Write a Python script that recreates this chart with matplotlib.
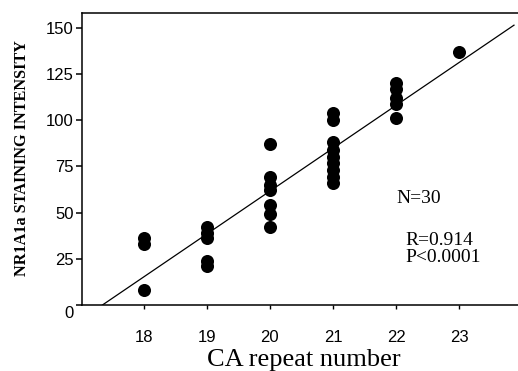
import numpy as np
import matplotlib
matplotlib.use("Agg")
import matplotlib.pyplot as plt
import matplotlib.transforms as mtransforms

# ---- data ----
repeat_18 = [36, 33, 8]
repeat_19 = [42, 39, 36, 24, 21]
repeat_20 = [87, 69, 65, 62, 54, 49, 42]
repeat_21 = [104, 100, 88, 84, 80, 77, 73, 69, 66]
repeat_22 = [120, 117, 112, 109, 101]
repeat_23 = [137]
groups = [18, 19, 20, 21, 22, 23]
group_values = [repeat_18, repeat_19, repeat_20, repeat_21, repeat_22, repeat_23]
x_ticks = [18, 19, 20, 21, 22, 23]
y_ticks = [0, 25, 50, 75, 100, 125, 150]
annot_n = "N=30"
annot_r = "R=0.914"
annot_p = "P<0.0001"
fit_x_end = 23.87

xs = np.concatenate([[g] * len(v) for g, v in zip(groups, group_values)]).astype(float)
ys = np.concatenate(group_values).astype(float)
slope, intercept = np.polyfit(xs, ys, 1)
x0 = -intercept / slope
fit_x = np.array([x0, fit_x_end])
fit_y = slope * fit_x + intercept

W, H = 518, 371
fig = plt.figure(figsize=(W / 100, H / 100), dpi=100)
ax = fig.add_axes([82 / W, 1 - 305 / H, 1 - 82 / W + 0.002, (305 - 13) / H])

ax.plot(fit_x, fit_y, color="black", lw=0.9, zorder=2)
ax.plot(xs, ys, "o", color="black", markersize=9.4, markeredgewidth=0, zorder=3)

ax.set_xlim(17.02, 23.95)
ax.set_ylim(0, 158)
ax.set_xticks(x_ticks)
ax.set_yticks(y_ticks)
ax.spines["right"].set_visible(False)
for s in ["left", "bottom", "top"]:
    ax.spines[s].set_linewidth(1.1)

tick_font = {"family": ["Liberation Sans", "DejaVu Sans"], "size": 12}
ax.set_xticklabels([str(t) for t in x_ticks], fontdict=tick_font)
ax.set_yticklabels([str(t) for t in y_ticks], fontdict=tick_font)
ax.tick_params(axis="x", direction="out", length=3, width=1, pad=15)
ax.tick_params(axis="y", direction="out", length=4, width=1.1, pad=2)
# the "0" label sits slightly below the axis in the reference
lab0 = ax.get_yticklabels()[0]
lab0.set_transform(lab0.get_transform() + mtransforms.ScaledTranslation(0, -7 / 100, fig.dpi_scale_trans))

serif = ["Liberation Serif", "DejaVu Serif"]
ax.set_xlabel("CA repeat number", family=serif, fontsize=19)
ax.xaxis.set_label_coords((303 - 82) / (W - 82), -(360 - 305) / (305 - 13))
ax.xaxis.label.set_va("center")
ax.set_ylabel("NR1A1a STAINING INTENSITY", family=serif, fontsize=11.7, fontweight="bold")
ax.yaxis.set_label_coords(-(82 - 22) / (W - 82), (305 - 158) / (305 - 13))
ax.yaxis.label.set_va("center")

ax.text(22.0, 57.5, annot_n, family=serif, fontsize=14, ha="left", va="center")
ax.text(22.15, 35, annot_r, family=serif, fontsize=14, ha="left", va="center")
ax.text(22.15, 25.5, annot_p, family=serif, fontsize=14, ha="left", va="center")

fig.savefig("out.png", dpi=100)
